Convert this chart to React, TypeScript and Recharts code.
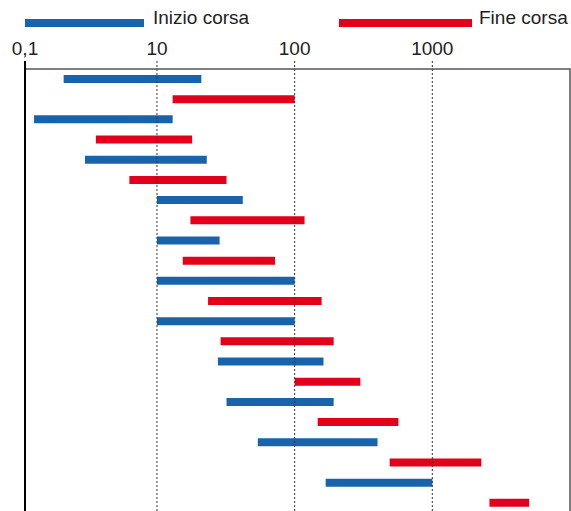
import { Bar, BarChart, Cell, ReferenceArea, ReferenceLine, XAxis, YAxis } from "recharts";

// one bar per row, top to bottom: "start" = Inizio corsa, "end" = Fine corsa
const rowKinds = [
  "start", "end", "start", "end", "start", "end", "start", "end", "start", "end", "start",
  "end", "start", "end", "start", "end", "start", "end", "start", "end", "start", "end",
];
const rowLow = [2.1, 13, 1.28, 3.6, 3.0, 6.3, 10, 17.5, 10, 15.4, 10, 23.5, 10, 29, 27.7, 100, 32, 147, 54, 490, 168, 2600];
const rowHigh = [21, 100, 13, 18, 23, 32, 42, 118, 28.5, 72, 100, 157, 100, 192, 162, 300, 192, 567, 400, 2270, 1000, 5050];

const xTicks = [1.1, 10, 100, 1000];
const xTickLabels = ["0,1", "10", "100", "1000"];

const legendItems = [
  { key: "start", label: "Inizio corsa" },
  { key: "end", label: "Fine corsa" },
];

const COLORS: Record<string, string> = { start: "#1764ad", end: "#e2001a" };
const FONT = "'Liberation Sans', Arial, sans-serif";

const data = rowKinds.map((kind, i) => ({
  row: `r${i + 1}`,
  kind,
  range: [rowLow[i], rowHigh[i]],
}));

export default function App() {
  return (
    <div style={{ position: "absolute", left: 0, top: 0, width: 571, height: 511, overflow: "hidden", background: "#fff", fontFamily: FONT }}>
      {/* legend: long line swatches */}
      <div style={{ position: "absolute", left: 25, top: 19, width: 119, height: 8, background: COLORS.start }} />
      <div style={{ position: "absolute", left: 153, top: 7, fontSize: 19, color: "#222" }}>{legendItems[0].label}</div>
      <div style={{ position: "absolute", left: 339, top: 19, width: 133, height: 8, background: COLORS.end }} />
      <div style={{ position: "absolute", left: 479, top: 7, fontSize: 19, color: "#222" }}>{legendItems[1].label}</div>

      <BarChart
        width={571}
        height={511}
        data={data}
        layout="vertical"
        margin={{ top: 31, right: 1, bottom: -2, left: 25 }}
      >
        <XAxis
          type="number"
          orientation="top"
          scale="log"
          domain={[1.1, 10000]}
          ticks={xTicks}
          allowDataOverflow
          height={30}
          tickLine={false}
          tickSize={4}
          tickMargin={2}
          axisLine={false}
          tick={{ fill: "#222", fontSize: 19, fontFamily: FONT }}
          tickFormatter={(v) => xTickLabels[xTicks.indexOf(v)] ?? String(v)}
        />
        <YAxis
          type="category"
          dataKey="row"
          width={0}
          tick={false}
          tickLine={false}
          axisLine={false}
          padding={{ top: 8, bottom: 0 }}
        />
        {/* plot frame */}
        <ReferenceArea x1={1.1} x2={10000} fill="none" stroke="#555" strokeWidth={1.5} ifOverflow="visible" />
        <ReferenceLine x={1.1} stroke="#000" strokeWidth={2} ifOverflow="visible" />
        {[10, 100, 1000].map((v) => (
          <ReferenceLine key={v} x={v} stroke="#333" strokeDasharray="2 2" />
        ))}
        <Bar dataKey="range" barSize={8} isAnimationActive={false}>
          {data.map((d) => (
            <Cell key={d.row} fill={COLORS[d.kind]} />
          ))}
        </Bar>
      </BarChart>
    </div>
  );
}
